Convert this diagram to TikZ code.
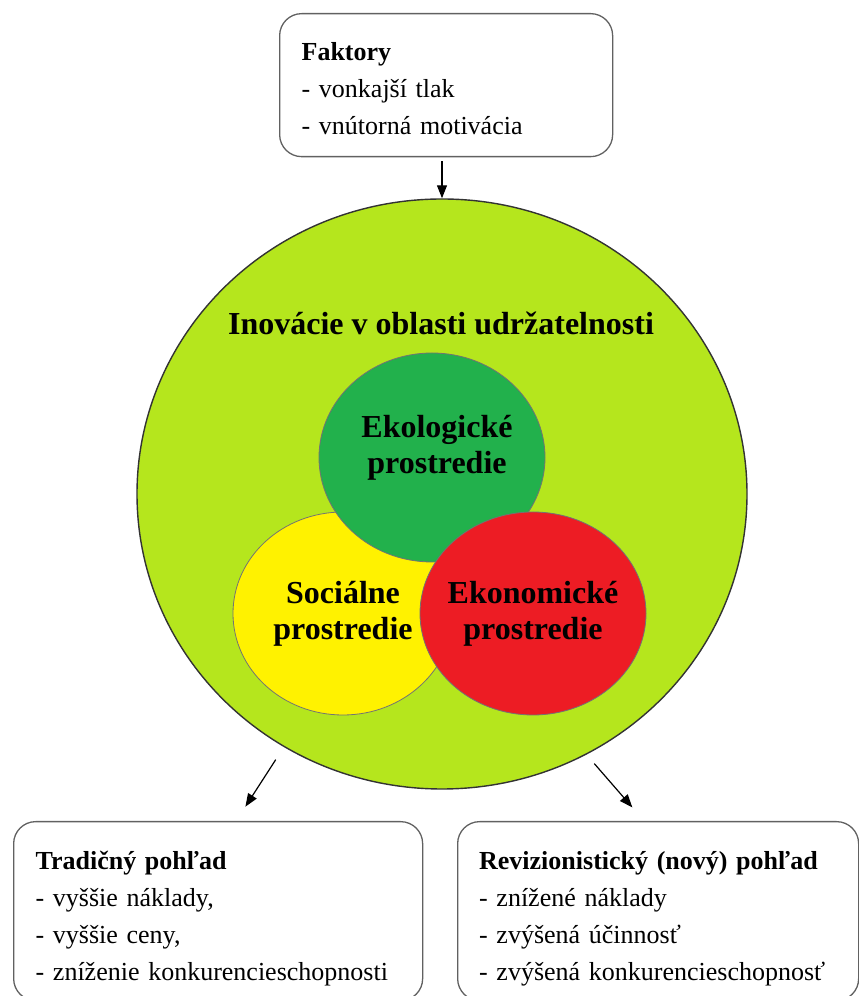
\documentclass[tikz,border=0pt]{standalone}
\usepackage{fontspec}
\setmainfont{Liberation Serif}
\usetikzlibrary{arrows.meta,positioning,shapes.geometric}
\definecolor{limefill}{HTML}{B5E61D}
\definecolor{ecogreen}{HTML}{22B14C}
\definecolor{socyellow}{HTML}{FFF200}
\definecolor{econred}{HTML}{ED1C24}

\begin{document}
\begin{tikzpicture}[x=1pt,y=1pt,>={Triangle[length=13pt,width=10pt]}]
  \useasboundingbox (0,0) rectangle (859,996);
  \tikzstyle{infobox}=[draw=black!62,line width=1.3pt,rounded corners=22pt,align=left,inner ysep=0pt,font=\fontsize{26}{37}\selectfont]
  \tikzstyle{sphere}=[ellipse,draw=black!55,line width=0.8pt,inner sep=0pt]
  \tikzstyle{spheretext}=[align=center,font=\fontsize{32}{36}\selectfont\bfseries]
  % factors on top
  \node[infobox,anchor=north west,text width=289pt,inner xsep=22pt,minimum height=143pt] (faktory) at (279,983)
    {\rule{0pt}{24pt}\textbf{Faktory}\\- vonkajší tlak\\- vnútorná motivácia};
  % main circle with the three environments
  \node[ellipse,draw=black!80,line width=1.4pt,fill=limefill,minimum width=610pt,minimum height=590pt,inner sep=0pt] (inov) at (442,502) {};
  \node[anchor=base,font=\fontsize{32}{36}\selectfont\bfseries] (title) at (441,661) {Inovácie v oblasti udržatelnosti};
  \node[sphere,fill=socyellow,minimum width=220pt,minimum height=203pt,
    label={[spheretext,name=soctxt]center:{Sociálne\\prostredie}}] (soc) at (343,382.5) {};
  \node[sphere,fill=ecogreen,minimum width=226pt,minimum height=209pt,
    label={[spheretext,name=ekotxt,xshift=5pt,yshift=10pt]center:{Ekologické\\prostredie}}] (eko) at (432,538.5) {};
  \node[sphere,fill=econred,minimum width=226pt,minimum height=203pt,
    label={[spheretext,name=ekontxt]center:{Ekonomické\\prostredie}}] (ekon) at (533,382.5) {};
  % two views below
  \node[infobox,anchor=north west,text width=365pt,inner xsep=22pt,minimum height=179pt] (trad) at (13,175)
    {\rule{0pt}{33pt}\textbf{Tradičný pohľad}\\- vyššie náklady,\\- vyššie ceny,\\- zníženie konkurencieschopnosti};
  \node[infobox,anchor=north west,text width=358pt,inner xsep=21.5pt,minimum height=179pt] (rev) at (457,175)
    {\rule{0pt}{33pt}\textbf{Revizionistický (nový) pohľad}\\- znížené náklady\\- zvýšená účinnosť\\- zvýšená konkurencieschopnosť};
  \draw[line width=1.2pt,->,shorten <=4pt] (faktory.south -| inov.north) -- (inov.north);
  \draw[line width=1.2pt,->,shorten <=15pt,shorten >=17pt] (inov.238) -- ([xshift=18pt]trad.north);
  \draw[line width=1.2pt,->,shorten <=12pt,shorten >=18pt] (inov.299) -- ([xshift=-14pt]rev.north);
\end{tikzpicture}
\end{document}
